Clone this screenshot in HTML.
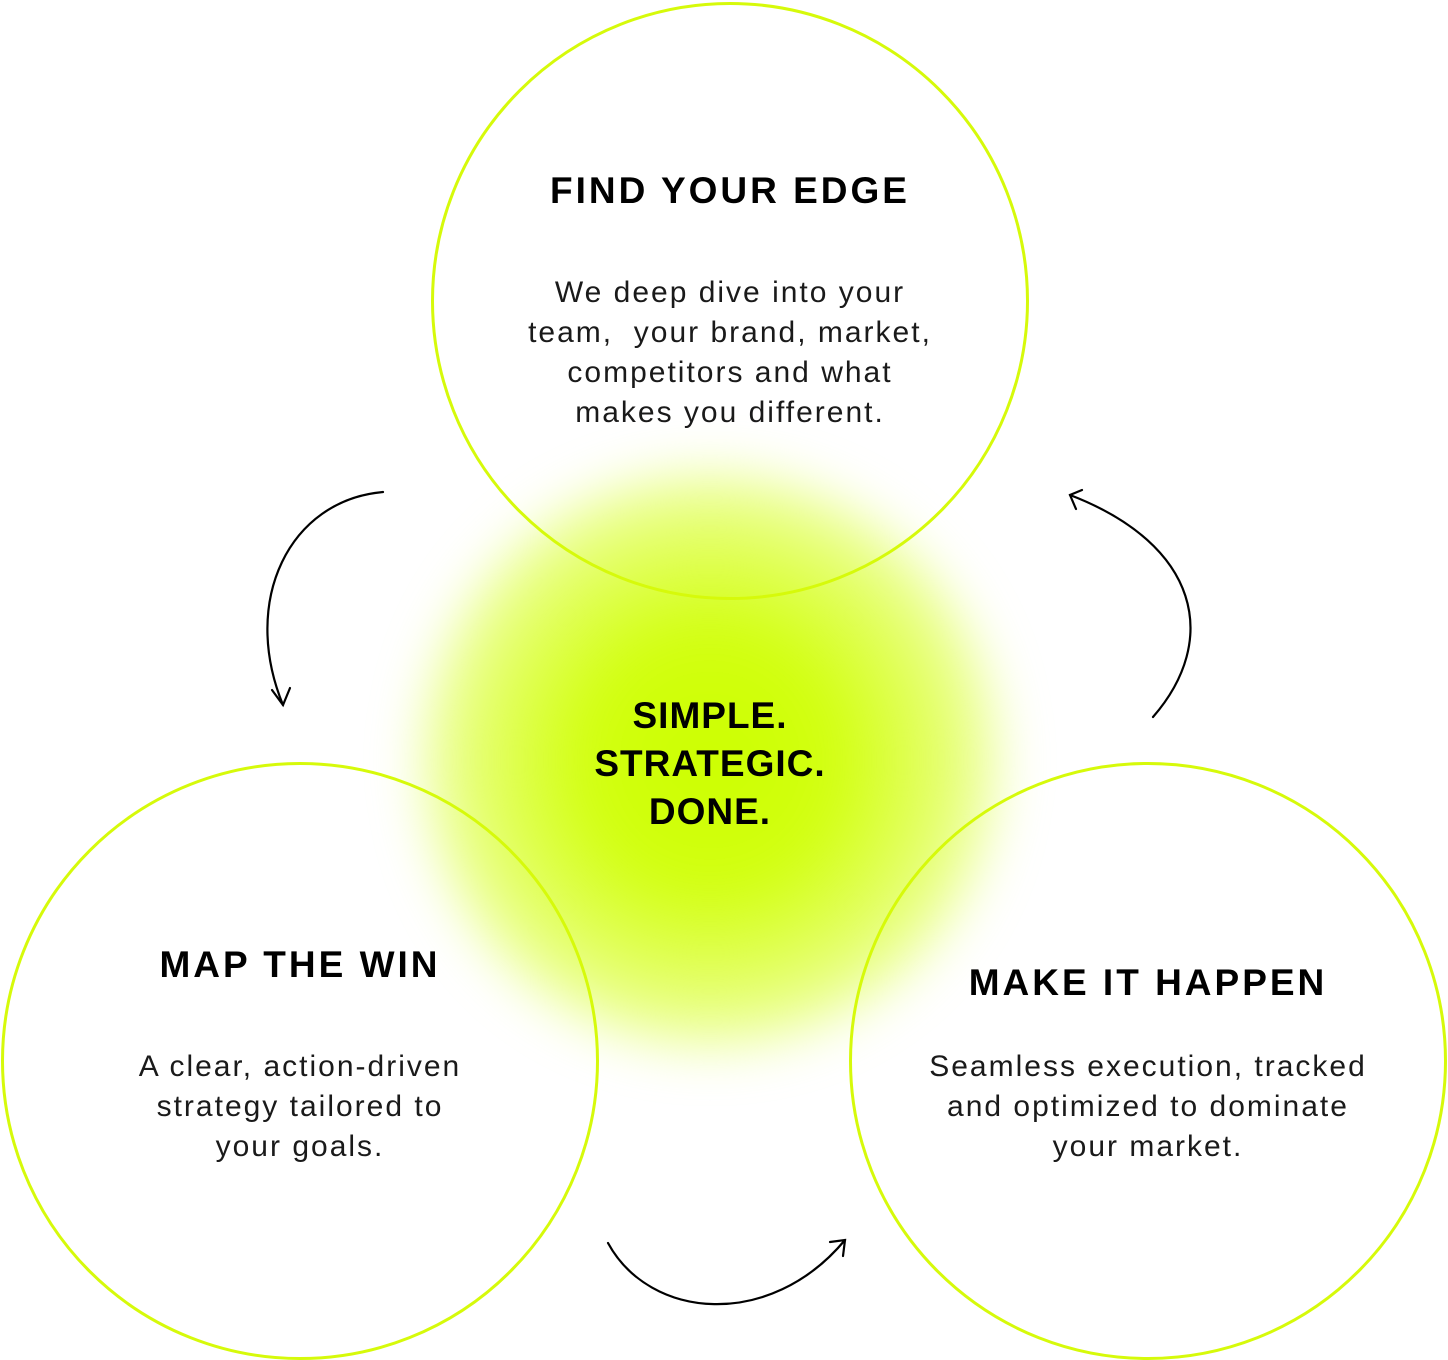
<!DOCTYPE html>
<html><head><meta charset="utf-8"><style>
html,body{margin:0;padding:0;background:#fff;}
body{width:1448px;height:1360px;position:relative;overflow:hidden;font-family:"Liberation Sans",sans-serif;}
.glow{position:absolute;left:420px;top:470px;width:580px;height:580px;border-radius:50%;background:radial-gradient(circle at 50% 50%,#ccff00 0%,#d2ff10 30%,rgba(218,255,50,0.75) 55%,rgba(235,255,150,0.35) 78%,rgba(255,255,255,0) 100%);filter:blur(25px);}
.c{position:absolute;width:592px;height:592px;border:3px solid #d6fa0a;border-radius:50%;}
.t{position:absolute;width:600px;text-align:center;color:#000;}
.h{font-weight:bold;font-size:37px;letter-spacing:3px;}
.b{font-size:30px;line-height:40px;color:#1a1a1a;letter-spacing:2px;}
</style></head><body>
<div class="glow"></div>
<div class="c" style="left:431px;top:2px;"></div>
<div class="c" style="left:1px;top:762px;"></div>
<div class="c" style="left:849px;top:762px;"></div>
<div class="t h" style="left:430px;top:170px;">FIND YOUR EDGE</div>
<div class="t b" style="left:430px;top:273px;">We deep dive into your<br>team,&nbsp; your brand, market,<br>competitors and what<br>makes you different.</div>
<div class="t h" style="left:0px;top:944px;">MAP THE WIN</div>
<div class="t b" style="left:0px;top:1047px;">A clear, action-driven<br>strategy tailored to<br>your goals.</div>
<div class="t h" style="left:848px;top:962px;">MAKE IT HAPPEN</div>
<div class="t b" style="left:848px;top:1047px;">Seamless execution, tracked<br>and optimized to dominate<br>your market.</div>
<div class="t h" style="left:410px;top:692px;line-height:48px;letter-spacing:1px;">SIMPLE.<br>STRATEGIC.<br>DONE.</div>
<svg width="1448" height="1360" style="position:absolute;left:0;top:0" fill="none" stroke="#000" stroke-width="2.2" stroke-linecap="round">
<path d="M383 492 C290 500 240 600 283 705"/>
<path d="M272 690 L283 705 L290 688"/>
<path d="M1153 717 C1220 640 1200 545 1070 495"/>
<path d="M1082 490 L1070 495 L1076 509"/>
<path d="M608 1243 C650 1320 770 1330 845 1240"/>
<path d="M830 1242 L845 1240 L843 1256"/>
</svg>
</body></html>
